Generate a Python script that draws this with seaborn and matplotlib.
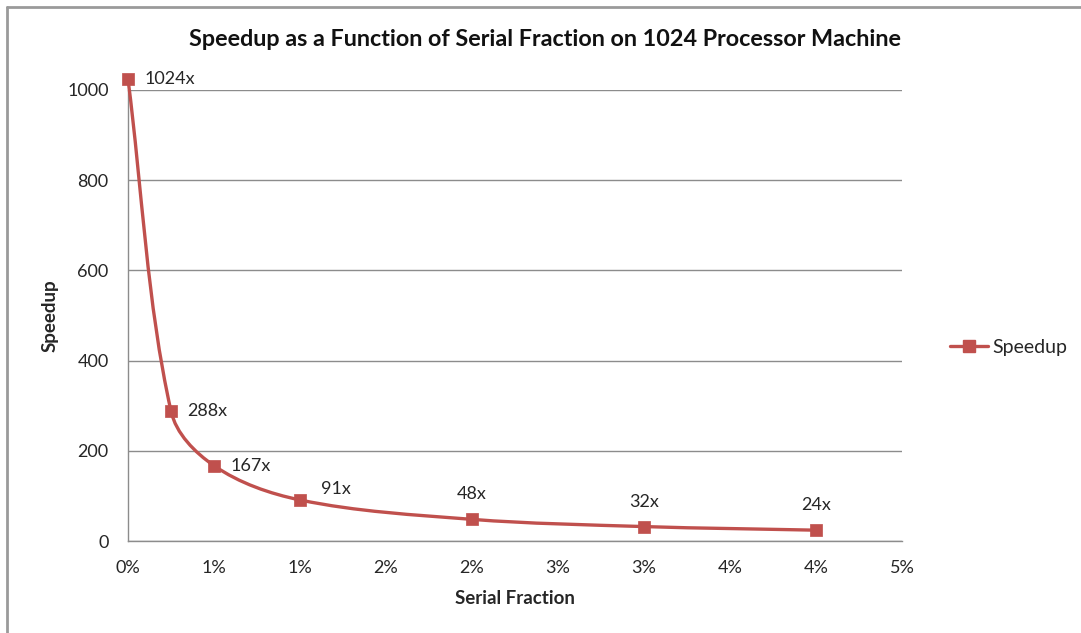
import matplotlib
matplotlib.use("Agg")
import matplotlib.pyplot as plt
import seaborn as sns
import pandas as pd
import numpy as np
from matplotlib.path import Path
from matplotlib.patches import PathPatch
from matplotlib.lines import Line2D
from matplotlib.ticker import FuncFormatter

# Amdahl speedup on a 1024-processor machine
serial_fraction = [0.0, 0.0025, 0.005, 0.01, 0.02, 0.03, 0.04]
speedup = [1024, 288, 167, 91, 48, 32, 24]
x_ticks = [0.0, 0.005, 0.01, 0.015, 0.02, 0.025, 0.03, 0.035, 0.04, 0.045]
y_ticks = [0, 200, 400, 600, 800, 1000]

RED = "#C0504D"
GRID = "#8C8C8C"
TEXT = "#262626"

sns.set_theme(style="white")
plt.rcParams["font.family"] = ["Lato", "DejaVu Sans"]

df = pd.DataFrame({"Serial Fraction": serial_fraction, "Speedup": speedup})

fig = plt.figure(figsize=(10.81, 6.33), dpi=100)
W, H = 1081, 633
ax = fig.add_axes([128 / W, 92 / H, (902 - 128) / W, (541 - 90) / H])

ax.set_xlim(0, 0.045)
ax.set_ylim(0, 1000)

# Smoothed line through the points: Bezier segments built in display space,
# tangent from the neighbouring points, handle length a third of the segment
disp = ax.transData.transform(
    np.column_stack([df["Serial Fraction"].to_numpy(float), df["Speedup"].to_numpy(float)]))
n = len(disp)
tangents = []
for i in range(n):
    a = disp[max(i - 1, 0)]
    b = disp[min(i + 1, n - 1)]
    d = b - a
    tangents.append(d / np.hypot(*d))
verts = [disp[0]]
codes = [Path.MOVETO]
for i in range(n - 1):
    p0, p1 = disp[i], disp[i + 1]
    seg = np.hypot(*(p1 - p0)) / 3.0
    c1 = p0 + tangents[i] * seg
    c2 = p1 - tangents[i + 1] * seg
    verts += [c1, c2, p1]
    codes += [Path.CURVE4] * 3
verts = ax.transData.inverted().transform(np.array(verts))
curve = PathPatch(Path(verts, codes), facecolor="none", edgecolor=RED,
                  linewidth=2.4, clip_on=False, zorder=3, capstyle="round")
ax.add_patch(curve)

sns.scatterplot(data=df, x="Serial Fraction", y="Speedup", ax=ax, marker="s",
                s=75, color=RED, edgecolor=RED, linewidth=0.5, clip_on=False,
                zorder=4, legend=False)

# Value labels
label_font = dict(fontsize=13, color=TEXT)
for i, (xv, yv) in enumerate(zip(serial_fraction, speedup)):
    txt = f"{yv}x"
    if i < 3:
        ax.annotate(txt, (xv, yv), xytext=(12, 0), textcoords="offset points",
                    ha="left", va="center", **label_font, annotation_clip=False)
    elif i == 3:
        ax.annotate(txt, (xv, yv), xytext=(26, 8), textcoords="offset points",
                    ha="center", va="center", **label_font, annotation_clip=False)
    else:
        ax.annotate(txt, (xv, yv), xytext=(0, 18), textcoords="offset points",
                    ha="center", va="center", **label_font, annotation_clip=False)

# Axes styling
ax.set_xticks(x_ticks)
ax.set_yticks(y_ticks)
ax.xaxis.set_major_formatter(FuncFormatter(lambda v, p: f"{np.floor(v * 100 + 0.5):.0f}%"))
ax.tick_params(axis="both", length=0, labelsize=13, labelcolor=TEXT)
ax.tick_params(axis="y", pad=14)
ax.tick_params(axis="x", pad=14)
ax.yaxis.grid(True, color=GRID, linewidth=1.0)
ax.xaxis.grid(False)
for side in ["top", "right"]:
    ax.spines[side].set_visible(False)
for side in ["left", "bottom"]:
    ax.spines[side].set_color(GRID)
    ax.spines[side].set_linewidth(1.0)
ax.set_axisbelow(True)

ax.set_xlabel("Serial Fraction", fontsize=13.5, fontweight="bold", color=TEXT, labelpad=10)
ax.set_ylabel("Speedup", fontsize=13.5, fontweight="bold", color=TEXT, labelpad=6)

fig.text(545 / W, 1 - 40 / H, "Speedup as a Function of Serial Fraction on 1024 Processor Machine",
         ha="center", va="center", fontsize=16.8, fontweight="bold", color="#111111")

# Legend to the right of the plot
handle = Line2D([], [], color=RED, linewidth=2.4, marker="s", markersize=8.5)
fig.legend([handle], ["Speedup"], loc="center left", bbox_to_anchor=(932 / W, 1 - 347 / H),
           frameon=False, fontsize=14, handlelength=2.0, handletextpad=0.2,
           labelcolor=TEXT)

# Outer chart frame (left and top edges)
fig.add_artist(Line2D([7.5 / W, 7.5 / W], [0, 1 - 6.5 / H], transform=fig.transFigure,
                      color="#9A9A9A", linewidth=2.0))
fig.add_artist(Line2D([7.5 / W, 1], [1 - 6.5 / H, 1 - 6.5 / H], transform=fig.transFigure,
                      color="#9A9A9A", linewidth=2.0))

fig.savefig("out.png", dpi=100, facecolor="white")
